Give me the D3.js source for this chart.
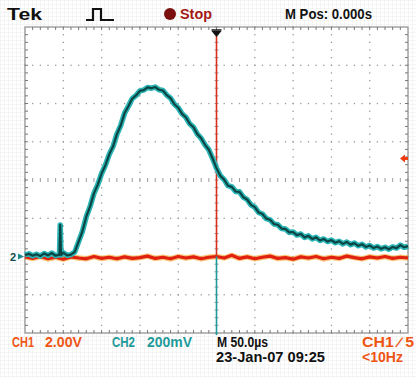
<!DOCTYPE html>
<html>
<head>
<meta charset="UTF-8">
<title>Tek scope</title>
<script src="https://d3js.org/d3.v7.min.js"></script>
<style>
  body { margin: 0; background: #fff; }
  text { font-family: "Liberation Sans", "DejaVu Sans", sans-serif; font-weight: bold; }
</style>
</head>
<body>
<div id="chart"></div>
<script>
// CH2 (teal) trace, time in µs, level in mV
const ch2Time = [-250,-245,-240,-235,-230,-225,-220,-215,-210,-205,-204,-203,-200,-195,-190,-185,-180,-175,-170,-165,-160,-155,-150,-145,-140,-135,-130,-125,-120,-115,-110,-105,-100,-95,-90,-85,-80,-75,-70,-65,-60,-55,-50,-45,-40,-35,-30,-25,-20,-15,-10,-5,0,5,10,15,20,25,30,35,40,45,50,55,60,65,70,75,80,85,90,95,100,105,110,115,120,125,130,135,140,145,150,155,160,165,170,175,180,185,190,195,200,205,210,215,220,225,230,235,240,245,250];
const ch2Mv   = [8,14,4,12,2,16,6,18,4,10,165,8,20,6,10,24,78,132,208,262,330,376,434,478,534,576,640,686,750,786,826,842,866,870,884,880,886,872,868,844,828,796,778,746,728,694,676,640,618,584,558,512,462,422,402,370,364,340,338,310,298,270,258,230,222,198,192,170,166,146,144,126,128,112,118,100,108,92,100,84,92,78,86,72,80,66,76,62,70,56,64,50,58,44,52,40,48,38,50,44,60,48,54];

// CH1 (red) trace, time in µs, level in V
const ch1Time = [-250,-240,-230,-220,-210,-200,-190,-180,-170,-160,-150,-140,-130,-120,-110,-100,-90,-80,-70,-60,-50,-40,-30,-20,-10,0,10,20,30,40,50,60,70,80,90,100,110,120,130,140,150,160,170,180,190,200,210,220,230,240,250];
const ch1V    = [-0.02,-0.1,0.0,-0.12,-0.04,-0.14,-0.02,-0.08,-0.12,0.0,-0.1,-0.04,-0.12,-0.02,-0.1,-0.06,0.02,-0.1,-0.04,-0.12,0.0,-0.08,-0.02,-0.12,-0.04,0.0,-0.08,0.06,-0.1,-0.02,-0.12,-0.04,0.02,-0.1,-0.06,-0.14,-0.02,-0.08,0.0,-0.12,-0.04,-0.1,0.02,-0.06,-0.12,-0.02,-0.08,0.0,-0.1,-0.04,-0.08];

const trigTime = 0;        // M Pos 0.000s
const trigLevel = 5.12;    // CH1 trigger level, V

const W = 416, H = 378;
const L = 25, R = 408, T = 27, B = 333;

const svg = d3.select("#chart").append("svg")
  .attr("width", W).attr("height", H);

// faint screen-grab lattice behind everything
const defs = svg.append("defs");
const pat = defs.append("pattern").attr("id", "lat")
  .attr("width", 4).attr("height", 4).attr("patternUnits", "userSpaceOnUse");
pat.append("path").attr("d", "M4 0H0V4").attr("fill", "none")
  .attr("stroke", "#e4e4e4").attr("stroke-width", 1);
svg.append("rect").attr("width", W).attr("height", H).attr("fill", "#fff");
svg.append("rect").attr("width", W).attr("height", H).attr("fill", "url(#lat)").attr("opacity", 0.7);
svg.append("rect").attr("x", L).attr("y", T).attr("width", R - L).attr("height", B - T).attr("fill", "#fff");

const x = d3.scaleLinear().domain([-250, 250]).range([L, R]);
const y2 = d3.scaleLinear().domain([-400, 1200]).range([B, T]);
const y1 = d3.scaleLinear().domain([-4, 12]).range([B, T]);
const xd = d3.scaleLinear().domain([0, 10]).range([L, R]);
const yd = d3.scaleLinear().domain([0, 8]).range([T, B]);

// graticule
const grid = svg.append("g");
const dotCol = "#9a9a9a";
d3.range(1, 10).forEach(i => {
  d3.range(0, 40.01, 1).forEach(j => {
    const yy = yd(j / 5);
    if (i === 5) {
      grid.append("line").attr("x1", xd(i) - 2).attr("x2", xd(i) + 2)
        .attr("y1", yy).attr("y2", yy).attr("stroke", dotCol).attr("stroke-width", 1);
    } else {
      grid.append("rect").attr("x", xd(i) - 0.6).attr("y", yy - 0.6)
        .attr("width", 1.3).attr("height", 1.3).attr("fill", dotCol);
    }
  });
});
d3.range(1, 8).forEach(j => {
  d3.range(0, 50.01, 1).forEach(i => {
    const xx = xd(i / 5);
    if (j === 4) {
      grid.append("line").attr("x1", xx).attr("x2", xx)
        .attr("y1", yd(j) - 2).attr("y2", yd(j) + 2).attr("stroke", dotCol).attr("stroke-width", 1);
    } else {
      grid.append("rect").attr("x", xx - 0.6).attr("y", yd(j) - 0.6)
        .attr("width", 1.3).attr("height", 1.3).attr("fill", dotCol);
    }
  });
});
// border with minor ticks
grid.append("rect").attr("x", L).attr("y", T).attr("width", R - L).attr("height", B - T)
  .attr("fill", "none").attr("stroke", "#8c8c8c").attr("stroke-width", 1.2);
d3.range(1, 50).forEach(i => {
  const xx = xd(i / 5);
  grid.append("line").attr("x1", xx).attr("x2", xx).attr("y1", T).attr("y2", T + 3).attr("stroke", "#777");
  grid.append("line").attr("x1", xx).attr("x2", xx).attr("y1", B).attr("y2", B - 3).attr("stroke", "#777");
});
d3.range(1, 40).forEach(j => {
  const yy = yd(j / 5);
  grid.append("line").attr("x1", L).attr("x2", L + 3).attr("y1", yy).attr("y2", yy).attr("stroke", "#777");
  grid.append("line").attr("x1", R).attr("x2", R - 3).attr("y1", yy).attr("y2", yy).attr("stroke", "#777");
});

// CH1 red trace
const ch1 = ch1Time.map((t, i) => [t, ch1V[i]]);
const line1 = d3.line().x(d => x(d[0])).y(d => y1(d[1]));
svg.append("path").datum(ch1).attr("d", line1).attr("fill", "none")
  .attr("stroke", "#f4a020").attr("stroke-width", 5.5).attr("opacity", 0.6);
svg.append("path").datum(ch1).attr("d", line1).attr("fill", "none")
  .attr("stroke", "#e2200f").attr("stroke-width", 3.2).attr("stroke-linejoin", "round");

// trigger position line
svg.append("line").attr("x1", x(trigTime)).attr("x2", x(trigTime))
  .attr("y1", T + 9).attr("y2", y1(0)).attr("stroke", "#d8301c").attr("stroke-width", 1.6);
svg.append("line").attr("x1", x(trigTime)).attr("x2", x(trigTime))
  .attr("y1", y1(0)).attr("y2", B + 2).attr("stroke", "#1d9a9a").attr("stroke-width", 1.6);

// CH2 teal trace
const ch2 = ch2Time.map((t, i) => [t, ch2Mv[i]]);
const line2 = d3.line().x(d => x(d[0])).y(d => y2(d[1]));
svg.append("path").datum(ch2).attr("d", line2).attr("fill", "none")
  .attr("stroke", "#2ab4b4").attr("stroke-width", 5.5).attr("stroke-linejoin", "round");
svg.append("path").datum(ch2).attr("d", line2).attr("fill", "none")
  .attr("stroke", "#0c4444").attr("stroke-width", 2.2).attr("stroke-linejoin", "round");

// trigger marker at top
const tx = x(trigTime);
svg.append("line").attr("x1", tx - 5).attr("x2", tx + 5).attr("y1", T + 3).attr("y2", T + 3)
  .attr("stroke", "#111").attr("stroke-width", 1.5);
svg.append("path").attr("d", `M${tx - 5},${T + 4}L${tx + 5},${T + 4}L${tx},${T + 10}Z`).attr("fill", "#111");

// trigger level marker on right
const ty = y1(trigLevel);
svg.append("path").attr("d", `M${R - 8},${ty}L${R - 3},${ty - 4}L${R - 3},${ty - 1.5}L${R},${ty - 1.5}L${R},${ty + 1.5}L${R - 3},${ty + 1.5}L${R - 3},${ty + 4}Z`)
  .attr("fill", "#f03a10");

// CH2 ground marker
const gy = y2(0);
svg.append("text").attr("x", 10).attr("y", gy + 4).attr("font-size", 11)
  .attr("fill", "#0e4a4a").text("2");
svg.append("path").attr("d", `M${L - 7},${gy - 3}L${L - 1},${gy}L${L - 7},${gy + 3}Z`).attr("fill", "#1a8c8c");

// header
svg.append("text").attr("x", 7).attr("y", 20).attr("font-size", 17).attr("fill", "#111")
  .attr("textLength", 35).attr("lengthAdjust", "spacingAndGlyphs").text("Tek");
svg.append("path").attr("d", "M86,20H93V9H101V20H114").attr("fill", "none")
  .attr("stroke", "#111").attr("stroke-width", 2.2);
svg.append("circle").attr("cx", 170).attr("cy", 14).attr("r", 6).attr("fill", "#7a1010");

const texts = [
  {t: "Stop", x: 180, y: 19, w: 32, c: "#a41a14"},
  {t: "M Pos: 0.000s", x: 285, y: 19, w: 87, c: "#111"},
  {t: "CH1", x: 12, y: 347, w: 22, c: "#ee5514"},
  {t: "2.00V", x: 45, y: 347, w: 37, c: "#ee5514"},
  {t: "CH2", x: 112, y: 347, w: 23, c: "#1f9a9a"},
  {t: "200mV", x: 147, y: 347, w: 45, c: "#1f9a9a"},
  {t: "M 50.0\u00b5s", x: 217, y: 347, w: 51, c: "#111"},
  {t: "CH1 \u2215 5", x: 362, y: 347, w: 52, c: "#ee5514"},
  {t: "23-Jan-07 09:25", x: 216, y: 362, w: 109, c: "#111"},
  {t: "<10Hz", x: 362, y: 362, w: 41, c: "#ee5514"}
];
svg.selectAll(".lbl").data(texts).enter().append("text")
  .attr("class", "lbl").attr("x", d => d.x).attr("y", d => d.y)
  .attr("font-size", 14).attr("fill", d => d.c)
  .attr("textLength", d => d.w).attr("lengthAdjust", "spacingAndGlyphs")
  .text(d => d.t);
</script>
</body>
</html>
